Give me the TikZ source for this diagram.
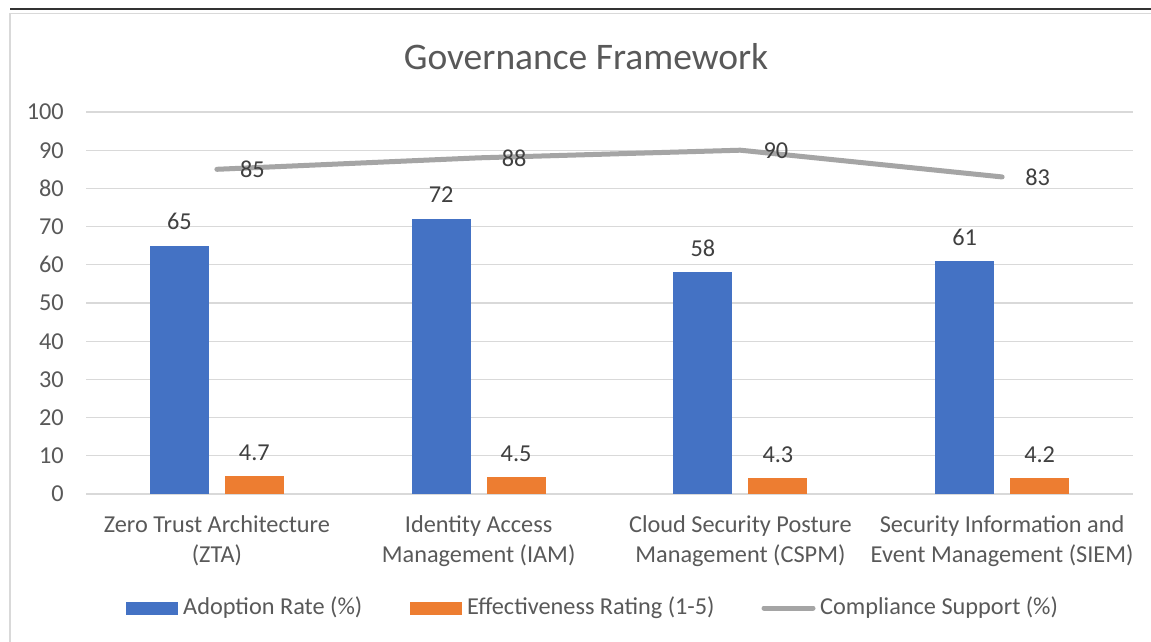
\documentclass[tikz,border=0pt]{standalone}
\usepackage{fontspec}
\setmainfont{Carlito}
\definecolor{cblue}{HTML}{4472C4}
\definecolor{corange}{HTML}{ED7D31}
\definecolor{cgray}{HTML}{A5A5A5}
\definecolor{cgrid}{HTML}{D9D9D9}
\definecolor{ctext}{HTML}{595959}
\definecolor{cdata}{HTML}{404040}
\begin{document}
\begin{tikzpicture}[x=1pt,y=-1pt,
  gridline/.style={draw=cgrid, line width=1.3pt},
  ticklbl/.style={anchor=east, text=ctext, font=\fontsize{24.3}{29}\selectfont, inner sep=0pt},
  catlbl/.style={align=center, text=ctext, font=\fontsize{24.3}{30}\selectfont, inner sep=0pt},
  datalbl/.style={text=cdata, font=\fontsize{24.3}{29}\selectfont, inner sep=0pt},
  legtext/.style={anchor=west, text=ctext, font=\fontsize{24.3}{29}\selectfont, inner sep=0pt},
  bluebar/.style={fill=cblue, draw=none},
  orangebar/.style={fill=corange, draw=none},
  compline/.style={draw=cgray, line width=5pt, line cap=round, line join=round}]
\useasboundingbox (0,0) rectangle (1151,642);
\fill[white] (0,0) rectangle (1151,642);
% frame
\draw[black!80, line width=2pt] (10,9) -- (1151,9);
\draw[cgrid, line width=1.2pt] (10,642) -- (10,13.5) -- (1151,13.5);
% title
\node[text=ctext, font=\fontsize{37.5}{44}\selectfont, inner sep=0pt] (title) at (586,57) {Governance Framework};
% grid and ticks
\foreach \k in {0,...,10}{
  \pgfmathsetmacro{\yy}{494-38.2*\k}
  \pgfmathtruncatemacro{\lab}{10*\k}
  \draw[gridline] (86,\yy) -- (1133,\yy);
  \node[ticklbl] (tick\k) at (64,\yy) {\lab};
}
% bars
\foreach \i/\a/\e/\c in {0/65/4.7/85, 1/72/4.5/88, 2/58/4.3/90, 3/61/4.2/83}{
  \pgfmathsetmacro{\cx}{86+261.75*(\i+0.5)}
  \pgfmathsetmacro{\ya}{494-3.82*\a}
  \pgfmathsetmacro{\ye}{494-3.82*\e}
  \pgfmathsetmacro{\yc}{494-3.82*\c}
  \fill[bluebar] (\cx-67,494) rectangle (\cx-8,\ya);
  \fill[orangebar] (\cx+8,494) rectangle (\cx+67,\ye);
  \node[datalbl] (la\i) at (\cx-37.5,\ya-24) {\a};
  \node[datalbl] (le\i) at (\cx+37.5,\ye-23) {\e};
  \coordinate (p\i) at (\cx,\yc);
}
\draw[compline] (p0) -- (p1) -- (p2) -- (p3);
\foreach \i/\c in {0/85,1/88,2/90,3/83}{
  \node[datalbl, anchor=west] (lc\i) at ([xshift=23pt]p\i) {\c};
}
% category labels
\node[catlbl] (cat0) at (216.9,541) {Zero Trust Architecture\\(ZTA)};
\node[catlbl] (cat1) at (478.6,541) {Identity Access\\Management (IAM)};
\node[catlbl] (cat2) at (740.4,541) {Cloud Security Posture\\Management (CSPM)};
\node[catlbl] (cat3) at (1002.1,541) {Security Information and\\Event Management (SIEM)};
% legend
\fill[bluebar] (126,602) rectangle (178,615);
\node[legtext] (leg1) at (183,608) {Adoption Rate (\%)};
\fill[orangebar] (410,602) rectangle (462,615);
\node[legtext] (leg2) at (467,608) {Effectiveness Rating (1-5)};
\draw[compline] (764,608) -- (813,608);
\node[legtext] (leg3) at (820,608) {Compliance Support (\%)};
\end{tikzpicture}
\end{document}
